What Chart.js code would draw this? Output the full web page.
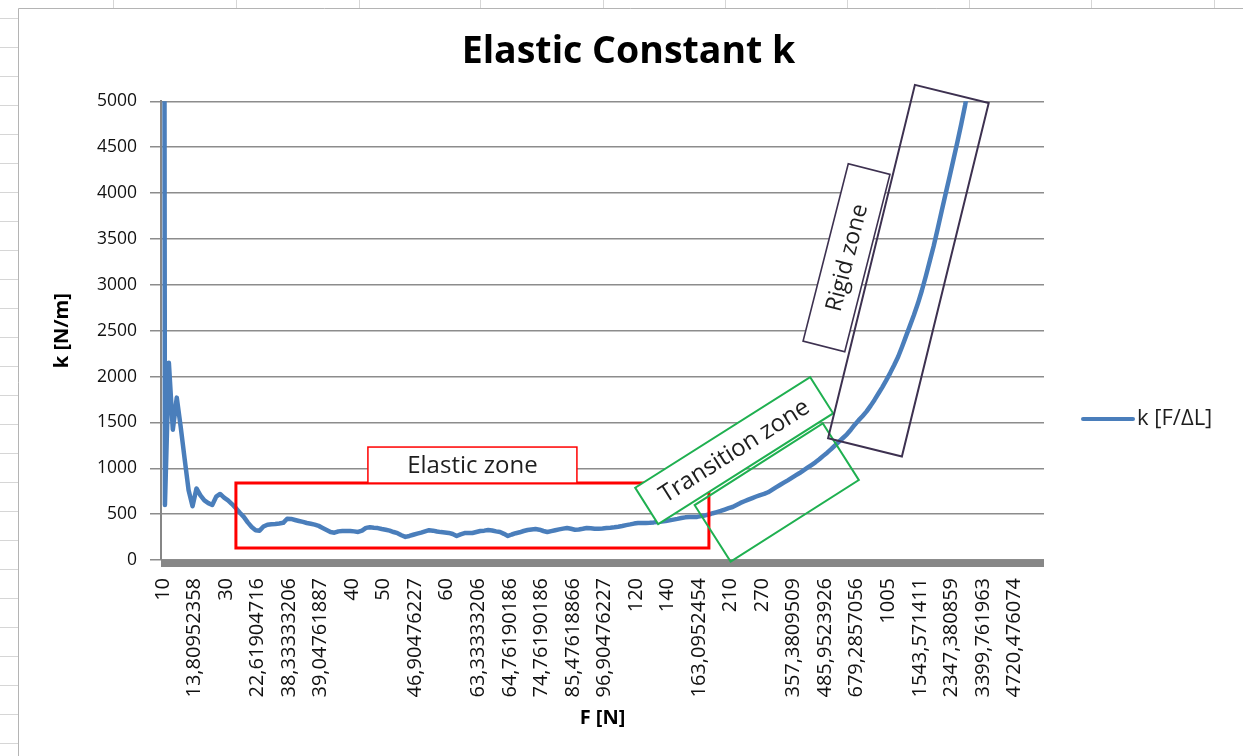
<!DOCTYPE html>
<html>
<head>
<meta charset="utf-8">
<title>Elastic Constant k</title>
<script src="https://cdn.jsdelivr.net/npm/chart.js@4.4.1/dist/chart.umd.min.js"></script>
<style>
  html, body { margin: 0; padding: 0; background: #ffffff; }
  canvas { display: block; }
</style>
</head>
<body>
<canvas id="chart" width="1243" height="756"></canvas>
<script>
// ---- chart data -------------------------------------------------------
const chartTitle = 'Elastic Constant k';
const seriesName = 'k [F/ΔL]';
const xAxisTitle = 'F [N]';
const yAxisTitle = 'k [N/m]';

// Force values printed under the axis (one every few measurements)
const forceTickLabels = [
  '10', '13,80952358', '30', '22,61904716', '38,33333206', '39,04761887',
  '40', '50', '46,90476227', '60', '63,33333206', '64,76190186',
  '74,76190186', '85,47618866', '96,90476227', '120', '140', '163,0952454',
  '210', '270', '357,3809509', '485,9523926', '679,2857056', '1005',
  '1543,571411', '2347,380859', '3399,761963', '4720,476074'
];
const pointsPerLabel = 8;      // measurements between two printed labels
const categoryCount = 224;     // measurements covered by the axis

// Elastic constant k [N/m], one value per measurement
const kValues = [
  40000, 600, 2150, 1420, 1770, 1450, 1100, 760, 585, 780,
  705, 650, 620, 600, 690, 720, 680, 650, 610, 565,
  515, 470, 410, 360, 325, 320, 365, 385, 390, 392,
  398, 405, 450, 448, 436, 425, 415, 403, 395, 386,
  372, 350, 328, 305, 298, 312, 316, 316, 316, 312,
  306, 320, 350, 357, 352, 348, 338, 330, 320, 305,
  292, 270, 252, 262, 275, 287, 298, 312, 325, 320,
  310, 304, 300, 295, 283, 262, 280, 294, 294, 294,
  305, 316, 320, 326, 322, 312, 305, 285, 262, 278,
  292, 302, 316, 327, 333, 337, 330, 316, 305, 315,
  325, 334, 342, 349, 340, 330, 332, 340, 349, 345,
  340, 340, 344, 349, 352, 356, 362, 370, 380, 388,
  397, 403, 403, 403, 406, 410, 415, 420, 424, 432,
  440, 448, 457, 465, 468, 468, 470, 478, 486, 496,
  510, 522, 535, 550, 565, 578, 600, 622, 640, 658,
  675, 692, 708, 720, 738, 765, 792, 817, 843, 868,
  895, 922, 948, 977, 1006, 1035, 1065, 1098, 1135, 1170,
  1208, 1250, 1290, 1330, 1370, 1420, 1475, 1525, 1570, 1620,
  1680, 1745, 1815, 1885, 1960, 2040, 2125, 2215, 2325, 2440,
  2555, 2670, 2795, 2935, 3090, 3255, 3420, 3605, 3795, 3985,
  4170, 4360, 4550, 4750, 4960, 5200, 5450
];

const yMin = 0, yMax = 5000, yStep = 500;

// ---- zone call-outs (centre in measurement / k units, size in px) ------
const zones = [
  { at: [79.0, 485],   w: 473, h: 65, angle: 0,     stroke: '#ff0000', lw: 3 },
  { at: [79.0, 1035],  w: 209, h: 36, angle: 0,     stroke: '#ff0000', lw: 1.5, fill: '#ffffff', text: 'Elastic zone', size: 24 },
  { at: [156.2, 735],  w: 152, h: 67, angle: -32.5, stroke: '#1fb050', lw: 2 },
  { at: [145.4, 1193], w: 207, h: 43, angle: -32.3, stroke: '#1fb050', lw: 2, fill: '#ffffff', text: 'Transition zone', size: 24 },
  { at: [189.6, 3154], w: 364, h: 76, angle: -76.2, stroke: '#3d3150', lw: 2 },
  { at: [173.9, 3295], w: 183, h: 43, angle: -75.7, stroke: '#3d3150', lw: 1.6, fill: '#ffffff', text: 'Rigid zone', size: 23 }
];

// ---- styling ---------------------------------------------------------
const FONT = "'Open Sans', 'Liberation Sans', sans-serif";
const lineColor = '#4a7ebb';
const sheetColumns = [113, 236, 359, 480, 603, 725, 847, 969, 1091, 1214];

// Worksheet cells peeking around the chart frame
const sheetBackground = {
  id: 'sheetBackground',
  beforeDraw(chart) {
    const { ctx, width, height } = chart;
    ctx.save();
    ctx.fillStyle = '#ffffff';
    ctx.fillRect(0, 0, width, height);
    ctx.strokeStyle = '#d6d6d6';
    ctx.lineWidth = 1;
    ctx.beginPath();
    sheetColumns.forEach(x => { ctx.moveTo(x + 0.5, 0); ctx.lineTo(x + 0.5, 8); });
    for (let y = 18; y < height; y += 29) { ctx.moveTo(0, y + 0.5); ctx.lineTo(18, y + 0.5); }
    ctx.stroke();
    ctx.strokeStyle = '#b4b4b4';
    ctx.beginPath();
    ctx.moveTo(18.5, height); ctx.lineTo(18.5, 8.5); ctx.lineTo(width, 8.5);
    ctx.stroke();
    ctx.restore();
  }
};

// Centre the title over the whole chart frame, legend column included
const titleAcrossFrame = {
  id: 'titleAcrossFrame',
  afterLayout(chart) {
    if (chart.titleBlock) {
      chart.titleBlock.left = 18;
      chart.titleBlock.right = chart.width - 4;
    }
  }
};

// Heavy category axis line along k = 0
const axisBar = {
  id: 'axisBar',
  beforeDatasetsDraw(chart) {
    const { ctx, chartArea, scales } = chart;
    const y0 = scales.y.getPixelForValue(0);
    ctx.save();
    ctx.fillStyle = '#878787';
    ctx.fillRect(chartArea.left, y0, chartArea.right - chartArea.left, 7);
    ctx.restore();
  }
};

// Rotated zone boxes with their captions
const zoneBoxes = {
  id: 'zoneBoxes',
  afterDatasetsDraw(chart) {
    const { ctx, scales } = chart;
    ctx.save();
    zones.forEach(z => {
      const cx = scales.x.getPixelForValue(z.at[0]);
      const cy = scales.y.getPixelForValue(z.at[1]);
      ctx.save();
      ctx.translate(cx, cy);
      ctx.rotate(z.angle * Math.PI / 180);
      if (z.fill) {
        ctx.fillStyle = z.fill;
        ctx.fillRect(-z.w / 2, -z.h / 2, z.w, z.h);
      }
      ctx.strokeStyle = z.stroke;
      ctx.lineWidth = z.lw;
      ctx.strokeRect(-z.w / 2, -z.h / 2, z.w, z.h);
      if (z.text) {
        ctx.fillStyle = '#1e1e1e';
        ctx.font = `${z.size}px ${FONT}`;
        ctx.textAlign = 'center';
        ctx.textBaseline = 'middle';
        ctx.fillText(z.text, 0, 1);
      }
      ctx.restore();
    });
    ctx.restore();
  }
};

// Series key to the right of the plot
const seriesKey = {
  id: 'seriesKey',
  afterDraw(chart) {
    const { ctx, chartArea } = chart;
    const x = chartArea.right + 39, y = 419;
    ctx.save();
    ctx.strokeStyle = lineColor;
    ctx.lineWidth = 4;
    ctx.lineCap = 'round';
    ctx.beginPath();
    ctx.moveTo(x, y); ctx.lineTo(x + 50, y);
    ctx.stroke();
    ctx.fillStyle = '#1e1e1e';
    ctx.font = `22px ${FONT}`;
    ctx.textAlign = 'left';
    ctx.textBaseline = 'middle';
    ctx.fillText(chart.data.datasets[0].label, x + 54, y);
    ctx.restore();
  }
};

new Chart(document.getElementById('chart'), {
  type: 'line',
  data: {
    datasets: [{
      label: seriesName,
      data: kValues.map((k, i) => ({ x: i, y: k })),
      borderColor: lineColor,
      backgroundColor: lineColor,
      borderWidth: 4.5,
      borderJoinStyle: 'round',
      borderCapStyle: 'round',
      pointRadius: 0,
      tension: 0,
      clip: { left: 3, top: 0, right: 0, bottom: 3 }
    }]
  },
  options: {
    responsive: false,
    animation: false,
    devicePixelRatio: 1,
    layout: { padding: { left: 18, top: 8, right: 199, bottom: 0 } },
    plugins: {
      legend: { display: false },
      tooltip: { enabled: false },
      title: {
        display: true,
        text: chartTitle,
        color: '#000000',
        font: { family: FONT, size: 37.5, weight: 'bold' },
        padding: { top: 21.5, bottom: 26.8 }
      }
    },
    scales: {
      x: {
        type: 'linear',
        min: 0,
        max: categoryCount,
        grid: { display: false, drawTicks: false },
        border: { display: false },
        afterBuildTicks: scale => {
          scale.ticks = forceTickLabels.map((_, j) => ({ value: j * pointsPerLabel + 0.5 }));
        },
        ticks: {
          autoSkip: false,
          minRotation: 90,
          maxRotation: 90,
          padding: 18,
          color: '#111111',
          font: { family: FONT, size: 20 },
          callback: (value, index) => forceTickLabels[index]
        },
        title: {
          display: true,
          text: xAxisTitle,
          color: '#000000',
          font: { family: FONT, size: 20, weight: 'bold' },
          padding: { top: 0, bottom: 26 }
        },
        afterFit: scale => { scale.height = 196; }
      },
      y: {
        min: yMin,
        max: yMax,
        ticks: {
          stepSize: yStep,
          padding: 13,
          color: '#111111',
          font: { family: FONT, size: 17.5 },
          callback: v => String(v)
        },
        grid: { color: '#8c8c8c', lineWidth: 1.5, tickLength: 11, drawTicks: true },
        border: { display: true, color: '#868686', width: 2 },
        title: {
          display: true,
          text: yAxisTitle,
          color: '#000000',
          font: { family: FONT, size: 20, weight: 'bold' },
          padding: { top: 32, bottom: 0 }
        },
        afterFit: scale => { scale.width = 143; }
      }
    }
  },
  plugins: [sheetBackground, titleAcrossFrame, axisBar, zoneBoxes, seriesKey]
});
</script>
</body>
</html>
